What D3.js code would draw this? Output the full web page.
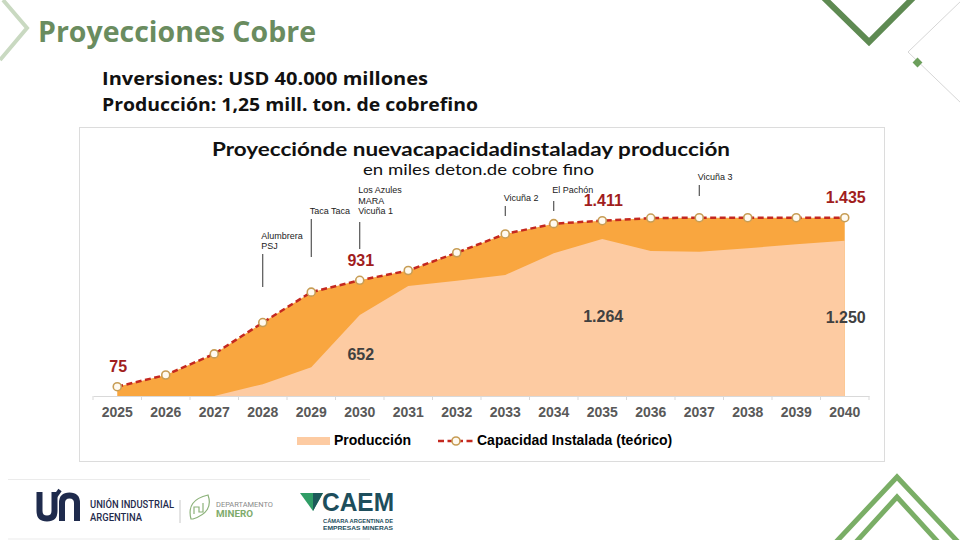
<!DOCTYPE html>
<html>
<head>
<meta charset="utf-8">
<script src="https://cdn.jsdelivr.net/npm/d3@7"></script>
<style>
  body { margin: 0; background: #fff; }
  svg { display: block; }
</style>
</head>
<body>
<div id="chart"></div>
<script>
// data
var years = ['2025','2026','2027','2028','2029','2030','2031','2032','2033','2034','2035','2036','2037','2038','2039','2040'];
var capacity = [75, 169, 339, 591, 836, 931, 1010, 1153, 1304, 1387, 1411, 1432, 1435, 1435, 1435, 1435];
var production = [0, 0, 0, 95, 231, 652, 885, 928, 974, 1148, 1264, 1167, 1161, 1189, 1221, 1250];
var labelled = ['2025', '2030', '2035', '2040'];
var projects = [
  {year: '2028', names: ['Alumbrera', 'PSJ']},
  {year: '2029', names: ['Taca Taca']},
  {year: '2030', names: ['Los Azules', 'MARA', 'Vicuña 1']},
  {year: '2033', names: ['Vicuña 2']},
  {year: '2034', names: ['El Pachón']},
  {year: '2037', names: ['Vicuña 3']}
];
var legendNames = ['Producción', 'Capacidad Instalada (teórico)'];

// layout of the project callouts: last text baseline, line top, line bottom
var calloutPos = [
  [249, 254, 287],
  [214, 219, 257],
  [214, 222, 249],
  [201, 206, 216],
  [193, 201, 211],
  [180, 185, 196]
];

var width = 960, height = 540;
var dark_orange = '#f9a63f', light_orange = '#fdcba2', line_red = '#c4281f', label_red = '#a11d1d';

var rows = years.map(function(y, i) {
  return {year: y, cap: capacity[i], prod: production[i]};
});

var fmt = d3.formatLocale({decimal: ',', thousands: '.', grouping: [3], currency: ['', '']}).format(',d');

var svg = d3.select('#chart').append('svg')
  .attr('width', width)
  .attr('height', height);

// slide decorations
svg.append('polyline')
  .attr('points', '3,0 27,28 0,60')
  .attr('fill', 'none').attr('stroke', '#c9d9c1').attr('stroke-width', 4);
svg.append('polyline')
  .attr('points', '823,-3 869,42 914,-3')
  .attr('fill', 'none').attr('stroke', '#5e8a52').attr('stroke-width', 6);
svg.append('polyline')
  .attr('points', '962,0 908,52 962,104')
  .attr('fill', 'none').attr('stroke', '#d6d6d6').attr('stroke-width', 1);
svg.append('rect')
  .attr('x', 914).attr('y', 59).attr('width', 7).attr('height', 7)
  .attr('transform', 'rotate(45 917.5 62.5)')
  .attr('fill', '#6c9f5c');
svg.append('polyline')
  .attr('points', '836,542 897,477 958,542')
  .attr('fill', 'none').attr('stroke', '#7aae66').attr('stroke-width', 5);
svg.append('polyline')
  .attr('points', '856,542 897,497 938,542')
  .attr('fill', 'none').attr('stroke', '#7aae66').attr('stroke-width', 5);

// headings
var head_font = '"Open Sans", "DejaVu Sans", sans-serif';
svg.append('text')
  .attr('x', 38).attr('y', 42)
  .attr('textLength', 278).attr('lengthAdjust', 'spacingAndGlyphs')
  .style('font', 'bold 28px ' + head_font).attr('fill', '#6a8c5f')
  .text('Proyecciones Cobre');
svg.append('text')
  .attr('x', 102).attr('y', 85)
  .attr('textLength', 326).attr('lengthAdjust', 'spacingAndGlyphs')
  .style('font', 'bold 18px ' + head_font).attr('fill', '#111')
  .text('Inversiones: USD 40.000 millones');
svg.append('text')
  .attr('x', 102).attr('y', 111)
  .attr('textLength', 376).attr('lengthAdjust', 'spacingAndGlyphs')
  .style('font', 'bold 18px ' + head_font).attr('fill', '#111')
  .text('Producción: 1,25 mill. ton. de cobrefino');

// chart frame
svg.append('rect')
  .attr('x', 79.5).attr('y', 127.5).attr('width', 805).attr('height', 334)
  .attr('fill', '#fff').attr('stroke', '#dcdcdc');

svg.append('text')
  .attr('x', 212).attr('y', 156)
  .attr('textLength', 518).attr('lengthAdjust', 'spacingAndGlyphs')
  .style('font', 'bold 19px Lato, sans-serif').attr('fill', '#111')
  .text('Proyecciónde nuevacapacidadinstaladay producción');
svg.append('text')
  .attr('x', 363).attr('y', 175)
  .attr('textLength', 231).attr('lengthAdjust', 'spacingAndGlyphs')
  .style('font', '15px Lato, sans-serif').attr('fill', '#111')
  .text('en miles deton.de cobre fino');

// scales
var x_scale = d3.scaleBand()
  .domain(years)
  .range([93, 869]);
var bw = x_scale.bandwidth();
function cx(y) { return x_scale(y) + bw / 2; }

var y_scale = d3.scaleLinear()
  .domain([0, 1435])
  .range([396, 217.7]);

// areas
var cap_area = d3.area()
  .x(function(d) { return cx(d.year); })
  .y0(y_scale(0))
  .y1(function(d) { return y_scale(d.cap); });
var prod_area = d3.area()
  .x(function(d) { return cx(d.year); })
  .y0(y_scale(0))
  .y1(function(d) { return y_scale(d.prod); });

svg.append('path').datum(rows).attr('d', cap_area).attr('fill', dark_orange);
svg.append('path').datum(rows).attr('d', prod_area).attr('fill', light_orange);

// x axis
var axis = svg.append('g')
  .attr('transform', 'translate(0,396)')
  .call(d3.axisBottom(x_scale).tickSize(0).tickPadding(11.5));
axis.select('.domain').attr('stroke', '#d9d9d9');
axis.selectAll('text')
  .style('font', 'bold 14px "Liberation Sans", Arial, sans-serif')
  .attr('fill', '#595959');
axis.selectAll('.edge')
  .data(years.map(function(y) { return x_scale(y); }).concat([x_scale.range()[1]]))
  .enter().append('line')
  .attr('x1', function(d) { return d; }).attr('x2', function(d) { return d; })
  .attr('y1', 0).attr('y2', 4)
  .attr('stroke', '#d9d9d9');

// capacity line and markers
var cap_line = d3.line()
  .x(function(d) { return cx(d.year); })
  .y(function(d) { return y_scale(d.cap); });

svg.append('path').datum(rows)
  .attr('d', cap_line)
  .attr('fill', 'none')
  .attr('stroke', line_red)
  .attr('stroke-width', 2.5)
  .attr('stroke-dasharray', '6,3.5');

function marker(sel) {
  sel.attr('r', 4)
    .attr('fill', '#fffaf0')
    .attr('stroke', '#c79d55')
    .attr('stroke-width', 1.6);
}

svg.selectAll('.cap-dot')
  .data(rows).enter().append('circle')
  .attr('class', 'cap-dot')
  .attr('cx', function(d) { return cx(d.year); })
  .attr('cy', function(d) { return y_scale(d.cap); })
  .call(marker);

// value labels
var label_font = 'bold 16px "Liberation Sans", Arial, sans-serif';
var picked = rows.filter(function(d) { return labelled.indexOf(d.year) >= 0; });

svg.selectAll('.cap-label')
  .data(picked).enter().append('text')
  .attr('x', function(d) { return cx(d.year) + 1; })
  .attr('y', function(d) { return y_scale(d.cap) - 14.5; })
  .attr('text-anchor', 'middle')
  .style('font', label_font)
  .attr('fill', label_red)
  .text(function(d) { return fmt(d.cap); });

svg.selectAll('.prod-label')
  .data(picked.filter(function(d) { return d.prod > 0; })).enter().append('text')
  .attr('x', function(d) { return cx(d.year) + 1; })
  .attr('y', function(d) { return (y_scale(d.prod) + y_scale(0)) / 2 + 5; })
  .attr('text-anchor', 'middle')
  .style('font', label_font)
  .attr('fill', '#404040')
  .text(function(d) { return fmt(d.prod); });

// project callouts
var callouts = svg.selectAll('.callout')
  .data(projects).enter().append('g');

callouts.append('line')
  .attr('x1', function(d) { return cx(d.year); })
  .attr('x2', function(d) { return cx(d.year); })
  .attr('y1', function(d, i) { return calloutPos[i][1]; })
  .attr('y2', function(d, i) { return calloutPos[i][2]; })
  .attr('stroke', '#333').attr('stroke-width', 1);

callouts.each(function(d, i) {
  var g = d3.select(this);
  var n = d.names.length;
  d.names.forEach(function(name, j) {
    g.append('text')
      .attr('x', cx(d.year) - 1.5)
      .attr('y', calloutPos[i][0] - (n - 1 - j) * 10.3)
      .style('font', '9px "Liberation Sans", Arial, sans-serif')
      .attr('fill', '#222')
      .text(name);
  });
});

// legend
var legend = svg.append('g');
legend.append('rect')
  .attr('x', 297).attr('y', 437).attr('width', 33).attr('height', 8)
  .attr('fill', light_orange);
legend.append('text')
  .attr('x', 334).attr('y', 445)
  .style('font', 'bold 14px "Liberation Sans", Arial, sans-serif')
  .text(legendNames[0]);
legend.append('line')
  .attr('x1', 438).attr('x2', 473).attr('y1', 441).attr('y2', 441)
  .attr('stroke', line_red).attr('stroke-width', 2.5).attr('stroke-dasharray', '6,3.5');
legend.append('circle').attr('cx', 456).attr('cy', 441).call(marker);
legend.append('text')
  .attr('x', 477).attr('y', 445)
  .style('font', 'bold 14px "Liberation Sans", Arial, sans-serif')
  .text(legendNames[1]);

// footer logos
var footer = svg.append('g');
footer.append('line').attr('x1', 8).attr('x2', 370).attr('y1', 479.5).attr('y2', 479.5).attr('stroke', '#ebebeb');
footer.append('line').attr('x1', 8).attr('x2', 370).attr('y1', 539).attr('y2', 539).attr('stroke', '#ebebeb');

var navy = '#1f2b4d';
footer.append('path')
  .attr('d', 'M39.5,492 V511 Q39.5,518.5 47,518.5 Q54.5,518.5 54.5,511 V492')
  .attr('fill', 'none').attr('stroke', navy).attr('stroke-width', 6);
footer.append('path')
  .attr('d', 'M55,497 L60,490')
  .attr('stroke', navy).attr('stroke-width', 4);
footer.append('path')
  .attr('d', 'M62,521 V503 Q62,495.5 69.5,495.5 Q77,495.5 77,503 V521')
  .attr('fill', 'none').attr('stroke', navy).attr('stroke-width', 6);
footer.append('text')
  .attr('x', 90).attr('y', 508).attr('textLength', 84).attr('lengthAdjust', 'spacingAndGlyphs')
  .style('font', '500 11px Roboto, sans-serif').attr('fill', navy)
  .text('UNIÓN INDUSTRIAL');
footer.append('text')
  .attr('x', 90).attr('y', 521).attr('textLength', 52).attr('lengthAdjust', 'spacingAndGlyphs')
  .style('font', '500 11px Roboto, sans-serif').attr('fill', navy)
  .text('ARGENTINA');
footer.append('line').attr('x1', 180).attr('x2', 180).attr('y1', 500).attr('y2', 523).attr('stroke', '#c8c8c8');
footer.append('path')
  .attr('d', 'M191,519 Q186,500 208,495 Q214,512 193,519 Z M194,514 V507 H199 V512 H203 V503')
  .attr('fill', 'none').attr('stroke', '#8cb27a').attr('stroke-width', 1.2);
footer.append('text')
  .attr('x', 216).attr('y', 507).attr('textLength', 57).attr('lengthAdjust', 'spacingAndGlyphs')
  .style('font', '8px Roboto, sans-serif').attr('fill', '#8a8a8a')
  .text('DEPARTAMENTO');
footer.append('text')
  .attr('x', 216).attr('y', 517).attr('textLength', 37).attr('lengthAdjust', 'spacingAndGlyphs')
  .style('font', 'bold 9.5px Roboto, sans-serif').attr('fill', '#7eab6b')
  .text('MINERO');

footer.append('polygon')
  .attr('points', '300,493 323,493 313,511')
  .attr('fill', '#2f9d66');
footer.append('polygon')
  .attr('points', '313,493 323,493 313,511')
  .attr('fill', '#1c5a5a');
footer.append('text')
  .attr('x', 322).attr('y', 511).attr('textLength', 72).attr('lengthAdjust', 'spacingAndGlyphs')
  .style('font', 'bold 25px "Liberation Sans", Arial, sans-serif').attr('fill', '#1d4e5c')
  .text('CAEM');
footer.append('text')
  .attr('x', 323).attr('y', 523).attr('textLength', 70).attr('lengthAdjust', 'spacingAndGlyphs')
  .style('font', 'bold 6px "Liberation Sans", Arial, sans-serif').attr('fill', '#1d4e5c')
  .text('CÁMARA ARGENTINA DE');
footer.append('text')
  .attr('x', 323).attr('y', 530).attr('textLength', 70).attr('lengthAdjust', 'spacingAndGlyphs')
  .style('font', 'bold 6px "Liberation Sans", Arial, sans-serif').attr('fill', '#1d4e5c')
  .text('EMPRESAS MINERAS');
</script>
</body>
</html>
